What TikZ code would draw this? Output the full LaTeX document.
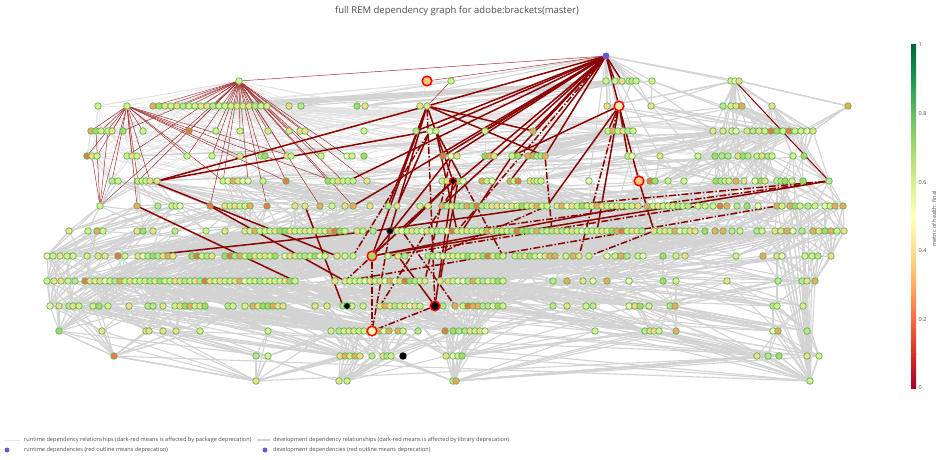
\documentclass[tikz,border=0pt]{standalone}
\usepackage{fontspec}
\setmainfont{Open Sans}
\usetikzlibrary{calc, positioning}

\definecolor{hlt}{HTML}{D9EF8B}
\definecolor{hyel}{HTML}{F7DB8A}
\definecolor{hgrn}{HTML}{BFE48F}
\definecolor{hpale}{HTML}{F4F6B8}
\definecolor{horg}{HTML}{F4A661}
\definecolor{hmid}{HTML}{A6D96A}
\definecolor{hred}{HTML}{EE7548}
\definecolor{hdep}{HTML}{F8C97A}
\definecolor{nodeline}{HTML}{5DB35A}
\definecolor{devgray}{HTML}{D3D3D3}
\definecolor{rungray}{HTML}{E2E2E2}
\definecolor{deprec}{HTML}{8B0000}
\definecolor{rootcol}{HTML}{6A5ACD}
\definecolor{cb0}{HTML}{A50026}
\definecolor{cb1}{HTML}{D73027}
\definecolor{cb2}{HTML}{F46D43}
\definecolor{cb3}{HTML}{FDAE61}
\definecolor{cb4}{HTML}{FEE08B}
\definecolor{cb5}{HTML}{FFFFBF}
\definecolor{cb6}{HTML}{D9EF8B}
\definecolor{cb7}{HTML}{A6D96A}
\definecolor{cb8}{HTML}{66BD63}
\definecolor{cb9}{HTML}{1A9850}
\definecolor{cb10}{HTML}{006837}

\pgfmathdeclarerandomlist{healthfill}{{hlt}{hlt}{hlt}{hlt}{hlt}{hlt}{hlt}{hlt}{hyel}{hyel}{hyel}{hyel}{hyel}{hyel}{hgrn}{hgrn}{hgrn}{hpale}{hpale}{horg}{horg}{hmid}{hmid}{hred}}

\pgfdeclarelayer{edges}
\pgfsetlayers{edges,main}

\begin{document}
\begin{tikzpicture}[x=1pt, y=-1pt,
	dep/.style={circle, draw=nodeline, line width=0.7pt, inner sep=0pt, minimum size=6.6pt},
	deprecated/.style={circle, draw=red, line width=1.5pt, inner sep=0pt, minimum size=9.6pt},
	rootdep/.style={circle, fill=rootcol, inner sep=0pt, minimum size=7pt},
	devedge/.style={draw=devgray, line width=1.1pt},
	runedge/.style={draw=rungray, line width=0.6pt},
	devdep/.style={draw=deprec, line width=1.5pt},
	rundep/.style={draw=deprec!80, line width=0.5pt},
	devdash/.style={devdep, dash pattern=on 7pt off 2pt on 1.5pt off 2pt},
	legtext/.style={font=\fontsize{5.6}{6}\selectfont, text=black!70, inner sep=0pt},
	ticktext/.style={font=\fontsize{5.5}{6}\selectfont, text=black!70, inner sep=0pt, anchor=west},
	]
	\useasboundingbox (0,0) rectangle (940,459);
	
	\node[font=\fontsize{9.5}{11}\selectfont, text=black!70] (title) at (457,11) {full REM dependency graph for adobe:brackets(master)};
	
	% dependency rows
	\pgfmathsetseed{2718}
	\foreach \r/\y/\lst in {
		1/81/{239,451,606,615,622,629,632,636,652,731,735,739},
		2/106/{98,127,153,159,...,267,289,301,357,365,420,427,607,651,723,731,736,742,772,848},
		3/131/{91,96,101,108,112,123,143,189,216,240,268,289,300,305,364,416,430,436,485,533,608,613,...,633,713,723,732,736,747,753,...,813},
		4/156/{87,92,97,127,132,137,187,212,240,261,265,287,291,321,347,352,364,443,451,457,485,489,494,512,518,528,533,537,541,545,628,632,660,698,715,722,728,738,743,748,757,762,768,772,793,804},
		5/181/{112,118,138,142,146,150,157,223,228,...,248,263,286,328,333,...,353,367,442,447,458,463,482,487,492,510,514,518,530,534,537,541,589,650,655,668,684,716,721,725,729,736,744,755,761,765,777,781,785,792,803,829},
		6/206/{100,137,158,172,176,180,210,225,230,...,250,267,295,305,320,332,345,353,370,388,397,420,428,442,447,...,547,557,562,...,632,638,647,653,658,...,688,698,705,713,720,727,737,747,758,777,782,790,795,800,808,815,825,830,835,843},
		7/231/{69,88,97,103,137,143,153,175,206,225,245,250,...,345,357,363,373,397,402,...,642,654,660,665,...,695,705,715,723,732,740,757,762,775,781,787,793,802,813,819,825,831,837,844},
		8/256/{47,53,60,67,73,87,98,105,118,125,138,143,...,173,192,197,...,212,225,230,...,275,285,290,...,325,337,345,353,388,398,405,428,433,...,503,515,520,...,555,566,573,579,589,607,615,621,627,638,643,663,676,685,736,763,777,782,805,812,818,831},
		9/281/{47,54,61,68,75,85,90,...,295,335,345,350,...,425,440,448,453,...,503,553,567,583,593,607,629,663,676,727,778,802,807,815},
		10/306/{50,59,69,73,79,93,99,108,129,148,153,163,175,180,...,205,228,233,245,253,258,263,...,283,315,327,343,352,363,380,385,...,420,443,455,463,468,...,503,553,567,586,593,629,635,640,649,670,675,773,777,803},
		11/331/{59,102,146,149,163,176,200,268,331,339,344,...,364,379,384,389,398,403,418,445,453,459,465,470,...,485,595,645,650,654,659,676,773,778,807},
		12/356/{114,256,268,340,345,...,360,372,383,387,391,446,453,458,462,757,768,779,807,819},
		13/381/{256,339,347,453,456,810}}{
		\foreach \x [count=\i] in \lst {
			\pgfmathrandomitem\fc{healthfill}
			\node[dep, fill=\fc, alias=x\r-\x] (n\r-\i) at (\x,\y) {};
			\expandafter\xdef\csname cnt\r\endcsname{\i}
			\expandafter\xdef\csname px\r-\i\endcsname{\x}
		}
	}
	
	% deprecated and special packages
	\node[rootdep] (root) at (606,56) {};
	\node[deprecated, fill=hdep] (x1-427) at (427,81) {};
	\node[deprecated, fill=hpale] (x2-619) at (619,106) {};
	\node[deprecated, fill=hdep] (x5-639) at (639,181) {};
	\node[dep, draw=red, line width=1.2pt, fill=black, minimum size=7pt] (x5-453) at (453,181) {};
	\node[dep, fill=black, draw=black!70] (x7-390) at (390,231) {};
	\node[deprecated, fill=hmid] (x8-372) at (372,256) {};
	\node[dep, fill=black, draw=nodeline] (x10-347) at (347,306) {};
	\node[deprecated, fill=black] (x10-435) at (435,306) {};
	\node[deprecated, fill=hpale] (x11-372) at (372,331) {};
	\node[dep, fill=black, draw=black] (x12-403) at (403,356) {};
	
	\begin{pgfonlayer}{edges}
		% relationships between rows
		\foreach \r in {1,...,12}{
			\pgfmathtruncatemacro\rowb{\r+1}
			\pgfmathtruncatemacro\rowc{min(\r+2,13)}
			\edef\na{\csname cnt\r\endcsname}
			\edef\nb{\csname cnt\rowb\endcsname}
			\edef\nc{\csname cnt\rowc\endcsname}
			\pgfmathsetmacro\spb{min(14,\nb/3)}
			\pgfmathsetmacro\spc{min(20,\nc/3)}
			\pgfmathsetmacro\plong{\r<10 ? 0.3 : 0.08}
			\foreach \ia in {1,...,\na}{
				\edef\sx{\csname px\r-\ia\endcsname}
				\ifnum\r<5 \ifnum\sx<560 \tikzset{curedge/.style={runedge}}\else\tikzset{curedge/.style={devedge}}\fi
				\else\tikzset{curedge/.style={devedge}}\fi
				\foreach \rep in {1,2,3}{
					\pgfmathtruncatemacro\ja{max(1,min(\nb,round(\ia*\nb/\na+(rnd-0.5)*\spb)))}
					\draw[curedge] (n\r-\ia) -- (n\rowb-\ja);
				}
				\pgfmathtruncatemacro\flag{rnd<0.6}
				\ifnum\flag=1
				\pgfmathtruncatemacro\jc{max(1,min(\nc,round(\ia*\nc/\na+(rnd-0.5)*\spc)))}
				\draw[curedge] (n\r-\ia) -- (n\rowc-\jc);
				\fi
				\pgfmathtruncatemacro\flag{rnd<\plong}
				\ifnum\flag=1
				\pgfmathtruncatemacro\jd{random(1,\nb)}
				\draw[curedge] (n\r-\ia) -- (n\rowb-\jd);
				\fi
				\pgfmathtruncatemacro\flag{rnd<0.6*\plong}
				\ifnum\flag=1
				\pgfmathtruncatemacro\jd{random(1,\nc)}
				\draw[curedge] (n\r-\ia) -- (n\rowc-\jd);
				\fi
			}
		}
		
		\foreach \a in {x1-606,x1-629,x1-632,x1-636,x1-652,x2-607,x2-651,x1-731,x3-608,x3-613,x4-628,x3-533,x4-698,x3-713,x2-365,x2-301,x4-545,x5-589,x6-638,x5-650,x4-660,x1-739}
		\draw[devedge] (root) -- (\a);
		\foreach \a in {x2-723,x2-731,x2-736,x2-742,x2-772,x3-713,x3-723,x3-732,x3-747,x3-765,x4-715,x4-738,x5-716}
		\draw[devedge] (x1-735) -- (\a);
		\foreach \a in {x3-747,x3-759,x3-771,x3-783,x3-795,x3-807,x4-757,x4-793,x4-804,x5-803,x5-829}
		\draw[devedge] (x2-772) -- (\a);
		\draw[devedge] (x1-739) -- (x2-848);
		\draw[devedge] (x1-652) -- (x2-651);
		\foreach \a in {x6-777,x6-782,x6-790,x6-795,x6-800,x6-808,x7-775,x7-781,x7-787,x7-793,x7-802,x8-777,x8-782,x8-805,x8-812,x9-802,x9-807,x9-815,x10-773,x10-777,x10-803,x11-773,x11-778,x11-807,x12-757,x12-768,x12-779,x12-807,x12-819,x11-268,x12-462,x11-595,x11-659,x10-553,x10-670,x9-583,x12-114}
		\draw[devedge] (\a) -- (x13-810);
		
		% runtime relationships
		\foreach \a in {x2-98,x2-127,x2-171,x2-195,x2-219,x2-243,x2-255,x3-143,x3-216,x4-240,x2-289,x2-357,x2-365,x3-364,x4-364,x5-263}
		\draw[runedge] (x1-239) -- (\a);
		\draw[runedge] (x1-427) -- (x2-420);
		\draw[runedge] (x1-427) -- (x1-451);
		
		% affected by package deprecation
		\draw[rundep] (root) -- (x1-239);
		\draw[rundep] (root) -- (x1-427);
		\draw[rundep] (x1-451) -- (x2-427);
		\foreach \a in {x2-153,x2-165,x2-177,x2-189,x2-201,x2-213,x2-225,x2-237,x2-249,x2-261,x3-123,x3-189,x3-216,x3-240,x3-268,x3-289,x3-305,x4-127,x4-187,x4-212,x4-261,x4-287,x4-321,x4-347,x5-138,x5-223,x5-248,x5-286,x5-328,x5-343,x5-367,x6-100,x6-210,x6-267,x6-320,x6-353}
		\draw[rundep] (x1-239) -- (\a);
		\foreach \a in {x3-91,x3-101,x3-112,x3-143,x3-189,x4-87,x4-97,x4-132,x4-187,x5-112,x5-138,x5-150,x5-223,x6-100,x6-137,x5-286,x4-240,x4-291,x5-333}
		\draw[rundep] (x2-127) -- (\a);
		\draw[rundep] (x3-96) -- (x6-100);
		\draw[rundep] (x4-92) -- (x6-100);
		\draw[rundep] (x3-108) -- (x6-100);
		
		% affected by library deprecation
		\foreach \a in {x2-427,x3-430,x4-443,x5-458,x3-485,x4-512,x5-510,x2-619,x1-615,x1-622,x3-416,x4-545,x6-353,x5-348,x4-451,x3-533,x6-442}
		\draw[devdep] (root) -- (\a);
		\foreach \a in {x5-453,x6-388,x7-390,x8-372,x4-545,x3-533,x5-157}
		\draw[devdep] (x2-427) -- (\a);
		\foreach \a in {x5-639,x3-608,x4-628,x6-547,x7-597,x4-512}
		\draw[devdep] (x2-619) -- (\a);
		\draw[devdep] (x3-430) -- (x6-397);
		\draw[devdep] (x3-436) -- (x5-463);
		\draw[devdep] (x3-436) -- (x7-457);
		\draw[devdep] (x4-451) -- (x8-372);
		\draw[devdep] (x5-453) -- (x8-372);
		\draw[devdep] (x5-453) -- (x7-402);
		\draw[devdep] (x5-453) -- (x10-435);
		\draw[devdep] (x10-435) -- (x8-398);
		\draw[devdep] (x5-639) -- (x7-654);
		\draw[devdep, line width=1pt] (x1-735) -- (x5-829);
		\draw[devdep] (x8-372) -- (x5-829);
		\draw[devdep] (x5-157) -- (x3-430);
		\draw[devdep] (x6-137) -- (x9-295);
		\draw[devdep] (x5-150) -- (x8-337);
		\draw[devdep] (x8-143) -- (x7-373);
		\draw[devdep] (x6-210) -- (x9-345);
		\draw[devdep] (x6-305) -- (x10-343);
		\draw[devdep] (x8-372) -- (x6-632);
		\draw[devdep] (x7-373) -- (x6-547);
		\draw[devdep] (x4-512) -- (x7-462);
		\draw[devdep] (x9-440) -- (x5-458);
		\draw[devdash] (x10-435) -- (x11-372);
		\draw[devdash] (x5-829) -- (x6-557);
		\draw[devdash] (x5-829) -- (x7-462);
		\draw[devdash] (x5-453) -- (x9-345);
		\draw[devdash] (x3-430) -- (x8-353);
		\draw[devdash] (x5-458) -- (x10-380);
		\draw[devdash] (x4-451) -- (x9-425);
		\draw[devdash] (x7-390) -- (x11-372);
		\draw[devdash] (x8-372) -- (x11-372);
		\draw[devdash] (x5-463) -- (x8-503);
		\draw[devdash] (x6-547) -- (x8-433);
		\draw[devdash] (x2-427) -- (x10-435);
		\draw[devdash] (x4-545) -- (x7-552);
		\draw[devdash] (x7-402) -- (x10-455);
		\draw[devdash] (root) -- (x7-457);
		\draw[devdash] (x9-345) -- (x6-777);
		\draw[devdash] (x8-388) -- (x6-698);
		\draw[devdash] (x2-619) -- (x8-579);
		\draw[devdash] (x7-654) -- (x8-589);
	\end{pgfonlayer}
	
	% colour bar
	\foreach \k [evaluate=\k as \kn using int(\k+1)] in {0,...,9}
	\shade[bottom color=cb\k, top color=cb\kn] (911,{388.3-34.3*\k}) rectangle (916,{387.7-34.3*(\k+1)});
	\foreach \v/\lab in {0/0,0.2/0.2,0.4/0.4,0.6/0.6,0.8/0.8,1/1}
	\node[ticktext] (tick\lab) at (918.5,{388-343*\v}) {\lab};
	\node[font=\fontsize{5.5}{6}\selectfont, text=black!70, rotate=90] (cbtitle) at (934,219) {metric of health: final};
	
	% legend
	\coordinate (legrunA) at (5,440);
	\coordinate (legrunB) at (20,440);
	\draw[draw=black!10, line width=0.5pt] (legrunA) -- (legrunB);
	\node[legtext, right=4pt of legrunB] (legrun) {runtime dependency relationships (dark-red means is affected by package deprecation)};
	\coordinate (legdevA) at (257,440);
	\coordinate (legdevB) at (270,440);
	\draw[devedge] (legdevA) -- (legdevB);
	\node[legtext, right=3pt of legdevB] (legdev) {development dependency relationships (dark-red means is affected by library deprecation)};
	\node[rootdep, minimum size=5pt] (legrundot) at (7,450) {};
	\node[legtext, anchor=west] (legrundep) at (24,450) {runtime dependencies (red outline means deprecation)};
	\node[rootdep, minimum size=5pt] (legdevdot) at (265,450) {};
	\node[legtext, anchor=west] (legdevdep) at (273,450) {development dependencies (red outline means deprecation)};
\end{tikzpicture}
\end{document}
